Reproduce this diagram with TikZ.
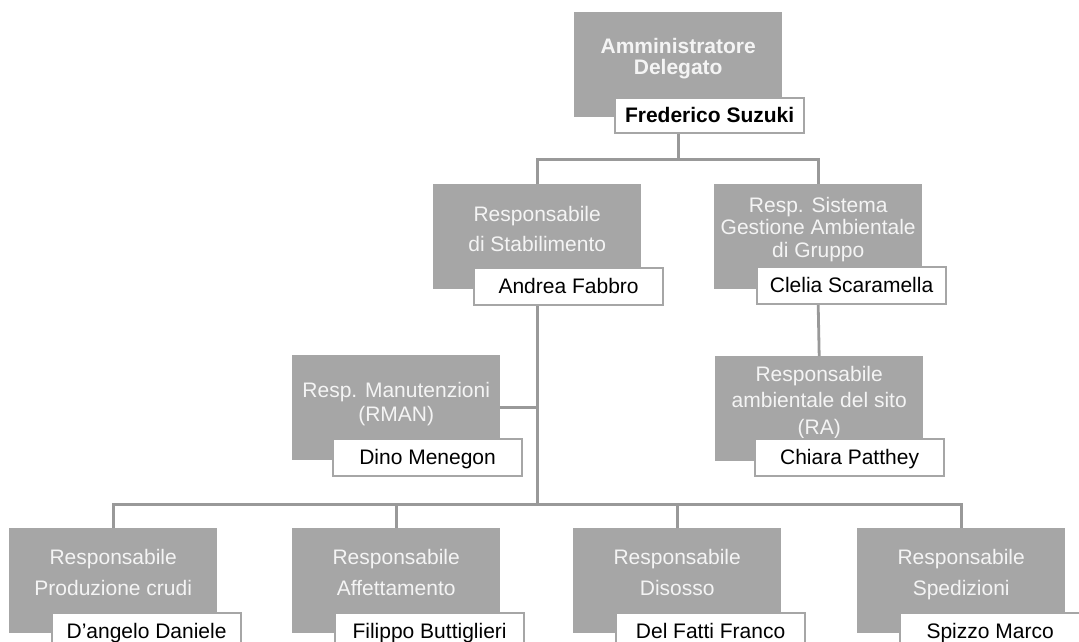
\documentclass[tikz,border=0pt]{standalone}
\usepackage{fontspec}
\setmainfont{Liberation Sans}
\usepackage{tikz}
\definecolor{grigio}{HTML}{A6A6A6}
\definecolor{linea}{HTML}{999999}
\definecolor{chiaro}{HTML}{F4F4F4}

\begin{document}
\begin{tikzpicture}[x=1pt,y=-1pt]
	\tikzset{ruolo/.style={fill=grigio,anchor=north west,minimum width=208pt,minimum height=105pt,inner sep=0pt}}
	\tikzset{titolo/.style={align=center,text=chiaro,inner sep=0pt,anchor=north,execute at begin node=\rule{0pt}{16pt},font=\fontsize{21}{#1}\selectfont},titolo/.default=30}
	\tikzset{nome/.style={draw=grigio,line width=2.2pt,fill=white,anchor=north west,minimum width=189pt,minimum height=37pt,inner sep=0pt,text height=17pt,text depth=3pt,font=\fontsize{21}{25}\selectfont}}
	\tikzset{collega/.style={draw=linea,line width=2.8pt}}
	\useasboundingbox (0,0) rectangle (1079,641);
	\clip (0,0) rectangle (1079,641);
	%\tikzset{every node/.style={draw=red}}
	\node[ruolo] (ad) at (574,12) {};
	\node[titolo,font=\fontsize{21}{21}\selectfont\bfseries] (ad-t) at ([yshift=-26pt]ad.north) {Amministratore\\Delegato};
	\node[nome,minimum height=35pt,font=\fontsize{21}{25}\selectfont\bfseries] (ad-n) at ([shift={(40,85)}]ad.north west) {Frederico Suzuki};
	\node[ruolo] (stab) at (433,184) {};
	\node[titolo] (stab-t) at ([yshift=-22pt]stab.north) {Responsabile\\di Stabilimento};
	\node[nome] (stab-n) at ([shift={(40,83)}]stab.north west) {Andrea Fabbro};
	\node[ruolo] (sga) at (714,184) {};
	\node[titolo=22.5] (sga-t) at ([yshift=-13pt]sga.north) {Resp. Sistema\\Gestione Ambientale\\di Gruppo};
	\node[nome] (sga-n) at ([shift={(42,82)}]sga.north west) {Clelia Scaramella};
	\node[ruolo] (man) at (292,355) {};
	\node[titolo=24] (man-t) at ([yshift=-27pt]man.north) {Resp. Manutenzioni\\(RMAN)};
	\node[nome] (man-n) at ([shift={(40,83)}]man.north west) {Dino Menegon};
	\node[ruolo] (ra) at (715,356) {};
	\node[titolo=26.5] (ra-t) at ([yshift=-10pt]ra.north) {Responsabile\\ambientale del sito\\(RA)};
	\node[nome] (ra-n) at ([shift={(39,82)}]ra.north west) {Chiara Patthey};
	\foreach \id/\x/\funzione/\persona/\w in {cru/9/Produzione crudi/D’angelo Daniele/189,aff/292/Affettamento/Filippo Buttiglieri/189,dis/573/Disosso/Del Fatti Franco/189,spe/857/Spedizioni/Spizzo Marco/180}{
		\node[ruolo] (\id) at (\x,528) {};
		\node[titolo=31] (\id-t) at ([yshift=-21pt]\id.north) {Responsabile\\\funzione};
		\node[nome,minimum width=\w pt] (\id-n) at ([shift={(42,84)}]\id.north west) {\persona};
	}
	\draw[collega] (ad.center |- ad-n.south) -- ++(0,25) coordinate (j1);
	\draw[collega] (stab.north) |- (j1) -| (sga.north);
	\draw[collega] (stab.center |- stab-n.south) -- ++(0,198) coordinate (j2);
	\draw[collega] (man.east) -- (man.east -| j2);
	\draw[collega] (sga.center |- sga-n.south) -- (ra.north);
	\draw[collega] (cru.north) |- (j2) -| (spe.north);
	\foreach \id in {aff,dis}
		\draw[collega] (\id.north) -- (\id.north |- j2);
\end{tikzpicture}
\end{document}
